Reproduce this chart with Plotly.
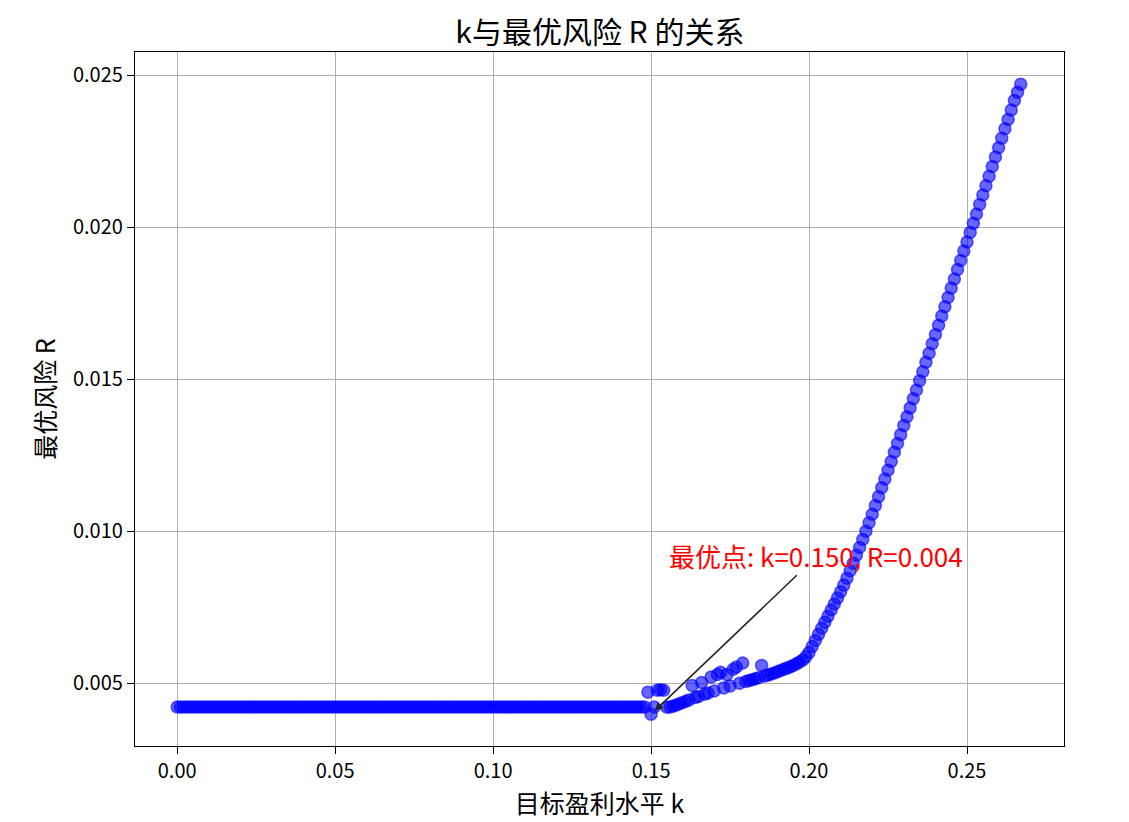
import plotly.graph_objects as go

# ---- data ----
k_values = [
    0.000, 0.001, 0.002, 0.003, 0.004, 0.005, 0.006, 0.007, 0.008, 0.009,
    0.010, 0.011, 0.012, 0.013, 0.014, 0.015, 0.016, 0.017, 0.018, 0.019,
    0.020, 0.021, 0.022, 0.023, 0.024, 0.025, 0.026, 0.027, 0.028, 0.029,
    0.030, 0.031, 0.032, 0.033, 0.034, 0.035, 0.036, 0.037, 0.038, 0.039,
    0.040, 0.041, 0.042, 0.043, 0.044, 0.045, 0.046, 0.047, 0.048, 0.049,
    0.050, 0.051, 0.052, 0.053, 0.054, 0.055, 0.056, 0.057, 0.058, 0.059,
    0.060, 0.061, 0.062, 0.063, 0.064, 0.065, 0.066, 0.067, 0.068, 0.069,
    0.070, 0.071, 0.072, 0.073, 0.074, 0.075, 0.076, 0.077, 0.078, 0.079,
    0.080, 0.081, 0.082, 0.083, 0.084, 0.085, 0.086, 0.087, 0.088, 0.089,
    0.090, 0.091, 0.092, 0.093, 0.094, 0.095, 0.096, 0.097, 0.098, 0.099,
    0.100, 0.101, 0.102, 0.103, 0.104, 0.105, 0.106, 0.107, 0.108, 0.109,
    0.110, 0.111, 0.112, 0.113, 0.114, 0.115, 0.116, 0.117, 0.118, 0.119,
    0.120, 0.121, 0.122, 0.123, 0.124, 0.125, 0.126, 0.127, 0.128, 0.129,
    0.130, 0.131, 0.132, 0.133, 0.134, 0.135, 0.136, 0.137, 0.138, 0.139,
    0.140, 0.141, 0.142, 0.143, 0.144, 0.145, 0.146, 0.147, 0.148, 0.149,
    0.150, 0.151, 0.152, 0.153, 0.154, 0.155, 0.156, 0.157, 0.158, 0.159,
    0.160, 0.161, 0.162, 0.163, 0.164, 0.165, 0.166, 0.167, 0.168, 0.169,
    0.170, 0.171, 0.172, 0.173, 0.174, 0.175, 0.176, 0.177, 0.178, 0.179,
    0.180, 0.181, 0.182, 0.183, 0.184, 0.185, 0.186, 0.187, 0.188, 0.189,
    0.190, 0.191, 0.192, 0.193, 0.194, 0.195, 0.196, 0.197, 0.198, 0.199,
    0.200, 0.201, 0.202, 0.203, 0.204, 0.205, 0.206, 0.207, 0.208, 0.209,
    0.210, 0.211, 0.212, 0.213, 0.214, 0.215, 0.216, 0.217, 0.218, 0.219,
    0.220, 0.221, 0.222, 0.223, 0.224, 0.225, 0.226, 0.227, 0.228, 0.229,
    0.230, 0.231, 0.232, 0.233, 0.234, 0.235, 0.236, 0.237, 0.238, 0.239,
    0.240, 0.241, 0.242, 0.243, 0.244, 0.245, 0.246, 0.247, 0.248, 0.249,
    0.250, 0.251, 0.252, 0.253, 0.254, 0.255, 0.256, 0.257, 0.258, 0.259,
    0.260, 0.261, 0.262, 0.263, 0.264, 0.265, 0.266, 0.267,
]

risk_values = [
    # 0.000 - 0.147 : flat
    0.00421, 0.00421, 0.00421, 0.00421, 0.00421, 0.00421, 0.00421, 0.00421, 0.00421, 0.00421,
    0.00421, 0.00421, 0.00421, 0.00421, 0.00421, 0.00421, 0.00421, 0.00421, 0.00421, 0.00421,
    0.00421, 0.00421, 0.00421, 0.00421, 0.00421, 0.00421, 0.00421, 0.00421, 0.00421, 0.00421,
    0.00421, 0.00421, 0.00421, 0.00421, 0.00421, 0.00421, 0.00421, 0.00421, 0.00421, 0.00421,
    0.00421, 0.00421, 0.00421, 0.00421, 0.00421, 0.00421, 0.00421, 0.00421, 0.00421, 0.00421,
    0.00421, 0.00421, 0.00421, 0.00421, 0.00421, 0.00421, 0.00421, 0.00421, 0.00421, 0.00421,
    0.00421, 0.00421, 0.00421, 0.00421, 0.00421, 0.00421, 0.00421, 0.00421, 0.00421, 0.00421,
    0.00421, 0.00421, 0.00421, 0.00421, 0.00421, 0.00421, 0.00421, 0.00421, 0.00421, 0.00421,
    0.00421, 0.00421, 0.00421, 0.00421, 0.00421, 0.00421, 0.00421, 0.00421, 0.00421, 0.00421,
    0.00421, 0.00421, 0.00421, 0.00421, 0.00421, 0.00421, 0.00421, 0.00421, 0.00421, 0.00421,
    0.00421, 0.00421, 0.00421, 0.00421, 0.00421, 0.00421, 0.00421, 0.00421, 0.00421, 0.00421,
    0.00421, 0.00421, 0.00421, 0.00421, 0.00421, 0.00421, 0.00421, 0.00421, 0.00421, 0.00421,
    0.00421, 0.00421, 0.00421, 0.00421, 0.00421, 0.00421, 0.00421, 0.00421, 0.00421, 0.00421,
    0.00421, 0.00421, 0.00421, 0.00421, 0.00421, 0.00421, 0.00421, 0.00421, 0.00421, 0.00421,
    0.00421, 0.00421, 0.00421, 0.00421, 0.00421, 0.00421, 0.00421, 0.00421,
    # 0.148 - 0.200 : transition
    0.00421, 0.00470,
    0.00397, 0.00421, 0.00476, 0.00478, 0.00476, 0.00420, 0.00421, 0.00424, 0.00428, 0.00432,
    0.00436, 0.00440, 0.00444, 0.00492, 0.00452, 0.00456, 0.00502, 0.00463, 0.00467, 0.00520,
    0.00474, 0.00528, 0.00535, 0.00484, 0.00527, 0.00490, 0.00545, 0.00553, 0.00499, 0.00566,
    0.00505, 0.00508, 0.00511, 0.00514, 0.00517, 0.00558, 0.00523, 0.00526, 0.00530, 0.00533,
    0.00537, 0.00541, 0.00545, 0.00549, 0.00553, 0.00558, 0.00563, 0.00569, 0.00576, 0.00586,
    0.00600,
    # 0.201 - 0.267 : steep rise
    0.00620, 0.00640, 0.00660, 0.00680, 0.00700, 0.00720, 0.00740, 0.00760, 0.00780,
    0.00800, 0.00822, 0.00845, 0.00869, 0.00894, 0.00920, 0.00946, 0.00972, 0.00999, 0.01027,
    0.01055, 0.01084, 0.01113, 0.01142, 0.01171, 0.01200, 0.01229, 0.01259, 0.01288, 0.01317,
    0.01347, 0.01376, 0.01405, 0.01435, 0.01464, 0.01494, 0.01524, 0.01555, 0.01585, 0.01616,
    0.01646, 0.01677, 0.01707, 0.01738, 0.01768, 0.01799, 0.01829, 0.01860, 0.01890, 0.01921,
    0.01951, 0.01982, 0.02012, 0.02043, 0.02074, 0.02105, 0.02136, 0.02167, 0.02199, 0.02230,
    0.02261, 0.02292, 0.02323, 0.02354, 0.02385, 0.02416, 0.02443, 0.02470,
]

best_k = 0.150
best_R = 0.00397
arrow_tail = (0.1966, 0.00859)
annotation_text = "最优点: k=0.150, R=0.004"

x_ticks = [0.00, 0.05, 0.10, 0.15, 0.20, 0.25]
x_tick_labels = ["0.00", "0.05", "0.10", "0.15", "0.20", "0.25"]
y_ticks = [0.005, 0.010, 0.015, 0.020, 0.025]
y_tick_labels = ["0.005", "0.010", "0.015", "0.020", "0.025"]

FONT = "Noto Sans CJK SC, SimHei, sans-serif"

fig = go.Figure()
fig.add_trace(go.Scatter(
    x=k_values, y=risk_values, mode="markers",
    marker=dict(color="rgba(0,0,255,0.6)", size=12,
                line=dict(width=1.5, color="rgba(0,0,255,0.6)")),
    hoverinfo="x+y",
))

# arrow
fig.add_annotation(
    x=best_k, y=best_R, ax=arrow_tail[0], ay=arrow_tail[1],
    xref="x", yref="y", axref="x", ayref="y",
    text="", showarrow=True, arrowhead=2, arrowsize=1.1, arrowwidth=1.5,
    arrowcolor="#222222", standoff=5,
)
# label
fig.add_annotation(
    x=0.155, y=0.00921, xref="x", yref="y", text=annotation_text,
    showarrow=False, xanchor="left", yanchor="middle",
    font=dict(family=FONT, size=26, color="red"),
)

axis_common = dict(
    showline=True, linecolor="black", linewidth=1.3, mirror=True,
    showgrid=True, gridcolor="#b0b0b0", gridwidth=1.3,
    zeroline=False, ticks="outside", ticklen=7, tickwidth=1.3, tickcolor="black",
    tickfont=dict(family=FONT, size=20, color="black"),
    automargin=False,
)

fig.update_xaxes(
    range=[-0.01335, 0.2807], tickvals=x_ticks, ticktext=x_tick_labels,
    title=dict(text="目标盈利水平 k", font=dict(family=FONT, size=25, color="black"), standoff=6),
    **axis_common,
)
fig.update_yaxes(
    range=[0.002928, 0.025757], tickvals=y_ticks, ticktext=y_tick_labels,
    title=dict(text="最优风险 R", font=dict(family=FONT, size=25, color="black"), standoff=10),
    **axis_common,
)

# the page body adds an 8px offset, so the figure is 8px smaller and margins shifted
fig.update_layout(
    width=1121, height=814,
    margin=dict(l=127, r=65, t=44, b=76),
    plot_bgcolor="white", paper_bgcolor="white",
    showlegend=False,
    font=dict(family=FONT, color="black"),
    title=dict(text="k与最优风险 R 的关系", x=0.528, xanchor="center",
               y=1 - 24 / 814, yanchor="middle", yref="container",
               font=dict(family=FONT, size=30, color="black")),
)

fig.write_html("out.html")
